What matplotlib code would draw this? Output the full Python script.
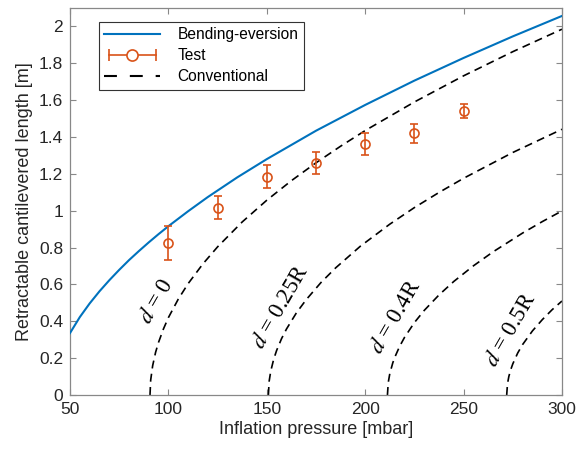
import matplotlib
matplotlib.use("Agg")
import matplotlib.pyplot as plt
from matplotlib.lines import Line2D
from matplotlib.legend_handler import HandlerLine2D, HandlerTuple

# ---- data ----
bend_p = [50, 55, 60, 65, 70, 75, 80, 85, 90, 95, 100, 110, 120, 135, 150, 175, 200, 225, 250, 275, 300]
bend_L = [0.336, 0.423, 0.497, 0.563, 0.623, 0.679, 0.732, 0.781, 0.828, 0.873, 0.916,
          0.997, 1.074, 1.181, 1.280, 1.434, 1.574, 1.706, 1.829, 1.946, 2.057]

test_p = [100, 125, 150, 175, 200, 225, 250]
test_L = [0.824, 1.017, 1.185, 1.258, 1.361, 1.419, 1.542]
test_err = [0.092, 0.061, 0.062, 0.059, 0.060, 0.053, 0.037]

conv0_p = [90.65, 91, 92, 93.5, 95, 97.5, 100, 105, 110, 117.5, 125, 137.5, 150, 162.5,
           175, 187.5, 200, 225, 250, 275, 300]
conv0_L = [0.0, 0.081, 0.159, 0.232, 0.286, 0.359, 0.42, 0.52, 0.604, 0.711, 0.804, 0.939,
           1.057, 1.163, 1.26, 1.35, 1.435, 1.59, 1.732, 1.863, 1.985]

conv25_p = [150.8, 151.2, 152, 153.5, 155, 157.5, 160, 165, 170, 177.5, 185, 197.5, 212.5,
            225, 237.5, 250, 275, 300]
conv25_L = [0.0, 0.075, 0.129, 0.194, 0.242, 0.306, 0.358, 0.445, 0.517, 0.610, 0.690,
            0.807, 0.927, 1.017, 1.099, 1.176, 1.316, 1.442]

conv40_p = [211.3, 211.7, 212.5, 214, 215, 217.5, 220, 225, 230, 237.5, 245, 255, 265, 280, 290, 300]
conv40_L = [0.0, 0.067, 0.116, 0.174, 0.204, 0.264, 0.313, 0.393, 0.459, 0.543, 0.616,
            0.701, 0.777, 0.879, 0.941, 0.999]

conv50_p = [271.9, 272.3, 273, 274, 275, 277.5, 280, 285, 290, 295, 300]
conv50_L = [0.0, 0.061, 0.101, 0.139, 0.169, 0.228, 0.274, 0.348, 0.409, 0.463, 0.510]

labels = [r"$d$ = 0", r"$d$ = 0.25R", r"$d$ = 0.4R", r"$d$ = 0.5R"]
label_x = [94.0, 157.0, 215.5, 273.9]
label_y = [0.506, 0.479, 0.425, 0.353]

xticks = [50, 100, 150, 200, 250, 300]
yticks = [0, 0.2, 0.4, 0.6, 0.8, 1, 1.2, 1.4, 1.6, 1.8, 2]
ytick_labels = ["0", "0.2", "0.4", "0.6", "0.8", "1", "1.2", "1.4", "1.6", "1.8", "2"]

# ---- style ----
plt.rcParams["font.family"] = ["Liberation Sans", "DejaVu Sans"]
plt.rcParams["mathtext.fontset"] = "stix"

blue = "#0072BD"
orange = "#D95319"

fig = plt.figure(figsize=(5.85, 4.51), dpi=100)
ax = fig.add_axes([70 / 585, 1 - 395 / 451, (562 - 70) / 585, (395 - 8) / 451])

ax.plot(bend_p, bend_L, color=blue, lw=1.5, zorder=3)
ax.errorbar(test_p, test_L, yerr=test_err, fmt="o", color=orange, mfc="none",
            ms=6.5, mew=1.2, elinewidth=1.2, capsize=3, capthick=1.2, zorder=4)

dash = (4.8, 3.2)
for p, L in [(conv0_p, conv0_L), (conv25_p, conv25_L), (conv40_p, conv40_L), (conv50_p, conv50_L)]:
    ax.plot(p, L, color="black", lw=1.2, ls=(0, dash), zorder=2)

for t, x, y in zip(labels, label_x, label_y):
    ax.text(x, y, t, rotation=60, ha="center", va="center", fontsize=16.5,
            family="Liberation Serif", rotation_mode="anchor")

ax.set_xlim(50, 300)
ax.set_ylim(0, 2.1)
ax.set_xticks(xticks)
ax.set_yticks(yticks)
ax.set_yticklabels(ytick_labels)
ax.tick_params(direction="in", top=True, right=True, labelsize=12.5, length=4,
               color="#888888", labelcolor="#262626", width=0.8, pad=5)
for s in ax.spines.values():
    s.set_color("#888888")
    s.set_linewidth(0.9)

ax.set_xlabel("Inflation pressure [mbar]", fontsize=13, color="#262626", labelpad=3)
ax.set_ylabel("Retractable cantilevered length [m]", fontsize=13, color="#262626", labelpad=4)

# legend
h_blue = Line2D([], [], color=blue, lw=1.5)
h_caps = Line2D([], [], color=orange, lw=1.2, marker="|", ms=8, mew=1.2)
h_circ = Line2D([], [], color=orange, ls="none", marker="o", mfc="white", ms=8, mew=1.2)
h_conv = Line2D([], [], color="black", lw=1.5, ls=(0, (6.2, 6.2)))
leg = ax.legend([h_blue, (h_caps, h_circ), h_conv], ["Bending-eversion", "Test", "Conventional"],
                handler_map={h_caps: HandlerLine2D(numpoints=2), tuple: HandlerTuple(ndivide=1)},
                loc="upper left", bbox_to_anchor=(0.059, 0.964), borderaxespad=0,
                fontsize=11.2, handlelength=3.6, handletextpad=1.1, labelspacing=0.38,
                fancybox=False, framealpha=1, edgecolor="#333333", borderpad=0.35)
leg.get_frame().set_linewidth(0.8)

fig.savefig("out.png", dpi=100)
